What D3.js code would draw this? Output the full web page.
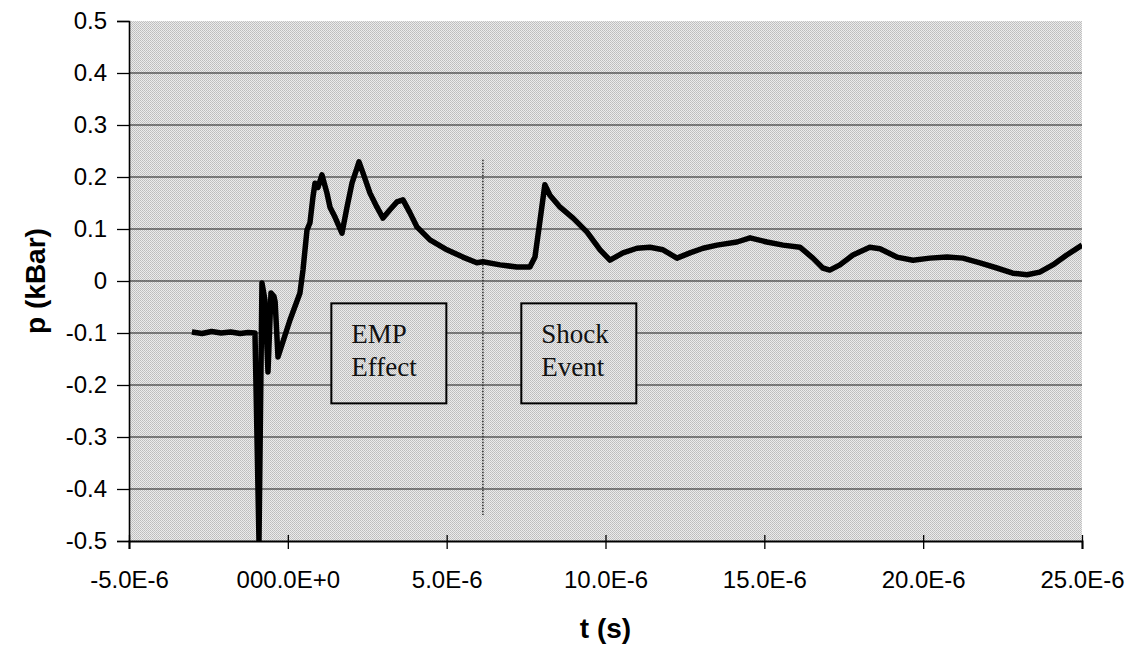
<!DOCTYPE html>
<html>
<head>
<meta charset="utf-8">
<script src="https://cdn.jsdelivr.net/npm/d3@7"></script>
<style>
  html, body { margin: 0; padding: 0; background: #ffffff; }
  svg { display: block; }
</style>
</head>
<body>
<div id="chart"></div>
<script>
// ---------- data (time in microseconds, pressure in kBar) ----------
const timeUs = [
  -3.02, -2.7, -2.4, -2.1, -1.8, -1.5, -1.25, -1.034,
  -0.971, -0.908, -0.814, -0.719, -0.625, -0.530, -0.436, -0.40,
  -0.310, 0.068, 0.382, 0.477, 0.603, 0.697, 0.792, 0.855, 0.949,
  1.075, 1.232, 1.327, 1.484, 1.704, 1.862, 2.019, 2.177, 2.240,
  2.365, 2.586, 2.806, 2.995, 3.215, 3.436, 3.625, 3.845, 4.065,
  4.474, 5.01, 5.51, 5.95, 6.14, 6.68, 7.21, 7.62, 7.78, 7.94,
  8.09, 8.25, 8.57, 8.98, 9.42, 9.83, 10.14, 10.55, 10.99, 11.40,
  11.81, 12.25, 12.66, 13.07, 13.51, 14.14, 14.55, 15.08, 15.59,
  16.12, 16.53, 16.84, 17.06, 17.38, 17.79, 18.32, 18.64, 19.17,
  19.68, 20.21, 20.75, 21.25, 21.79, 22.32, 22.82, 23.27, 23.67,
  24.08, 24.52, 25.0
];
const pressure = [
  -0.098, -0.101, -0.097, -0.100, -0.098, -0.101, -0.099, -0.100,
  -0.300, -0.500, -0.004, -0.037, -0.175, -0.023, -0.030, -0.040,
  -0.146, -0.075, -0.023, 0.021, 0.098, 0.112, 0.162, 0.188, 0.180,
  0.204, 0.169, 0.142, 0.123, 0.092, 0.142, 0.188, 0.217, 0.229,
  0.208, 0.169, 0.142, 0.121, 0.137, 0.152, 0.156, 0.131, 0.104,
  0.079, 0.060, 0.046, 0.035, 0.037, 0.031, 0.027, 0.027, 0.046, 0.117,
  0.185, 0.165, 0.142, 0.121, 0.094, 0.060, 0.040, 0.054, 0.063, 0.065,
  0.060, 0.044, 0.054, 0.063, 0.069, 0.075, 0.083, 0.075, 0.069,
  0.065, 0.044, 0.025, 0.021, 0.031, 0.050, 0.065, 0.062, 0.046,
  0.040, 0.044, 0.046, 0.044, 0.035, 0.025, 0.015, 0.012, 0.017,
  0.031, 0.050, 0.069
];
const xTickValues = [-5e-6, 0, 5e-6, 10e-6, 15e-6, 20e-6, 25e-6];
const xTickLabels = ["-5.0E-6", "000.0E+0", "5.0E-6", "10.0E-6", "15.0E-6", "20.0E-6", "25.0E-6"];
const yTickValues = [-0.5, -0.4, -0.3, -0.2, -0.1, 0, 0.1, 0.2, 0.3, 0.4, 0.5];
const yTickLabels = ["-0.5", "-0.4", "-0.3", "-0.2", "-0.1", "0", "0.1", "0.2", "0.3", "0.4", "0.5"];
const markerTime = [6.14e-6, 6.14e-6];
const markerP = [0.233, -0.45];
const boxLabels = [
  { lines: ["EMP", "Effect"], t: 1.37e-6, p: -0.043 },
  { lines: ["Shock", "Event"], t: 7.35e-6, p: -0.043 }
];

// ---------- layout ----------
const W = 1135, H = 649;
const L = 129, R = 1082, T = 21, B = 541;
const svg = d3.select("#chart").append("svg").attr("width", W).attr("height", H);

const defs = svg.append("defs");
const pat = defs.append("pattern").attr("id", "halftone")
  .attr("patternUnits", "userSpaceOnUse").attr("width", 2).attr("height", 2);
pat.append("rect").attr("width", 2).attr("height", 2).attr("fill", "#ebebeb");
pat.append("rect").attr("x", 0).attr("y", 0).attr("width", 1).attr("height", 1).attr("fill", "#bcbcbc");
pat.append("rect").attr("x", 1).attr("y", 1).attr("width", 1).attr("height", 1).attr("fill", "#c4c4c4");
defs.append("clipPath").attr("id", "plotclip").append("rect")
  .attr("x", L).attr("y", T).attr("width", R - L).attr("height", B - T);

const x = d3.scaleLinear().domain([-5e-6, 25e-6]).range([L, R]);
const y = d3.scaleLinear().domain([-0.5, 0.5]).range([B, T]);

// plot background
svg.append("rect").attr("x", L).attr("y", T).attr("width", R - L).attr("height", B - T)
  .attr("fill", "url(#halftone)");

// horizontal gridlines
svg.append("g").selectAll("line").data(yTickValues.filter(v => v > -0.5 && v < 0.5)).join("line")
  .attr("x1", L).attr("x2", R).attr("y1", d => y(d)).attr("y2", d => y(d))
  .attr("stroke", "#1a1a1a").attr("stroke-width", 1.2);

// dotted vertical marker
svg.append("line")
  .attr("x1", x(markerTime[0])).attr("x2", x(markerTime[1]))
  .attr("y1", y(markerP[0])).attr("y2", y(markerP[1]))
  .attr("stroke", "#333").attr("stroke-width", 1.6).attr("stroke-dasharray", "1.5,1.5");

// data trace
const pts = timeUs.map((t, i) => [t * 1e-6, pressure[i]]);
svg.append("path").datum(pts)
  .attr("clip-path", "url(#plotclip)")
  .attr("fill", "none").attr("stroke", "#000").attr("stroke-width", 5.5)
  .attr("stroke-linejoin", "round")
  .attr("d", d3.line().x(d => x(d[0])).y(d => y(d[1])));

// annotation boxes
const boxW = 115, boxH = 100;
boxLabels.forEach(b => {
  const bx = x(b.t), by = y(b.p);
  svg.append("rect").attr("x", bx).attr("y", by).attr("width", boxW).attr("height", boxH)
    .attr("fill", "url(#halftone)").attr("stroke", "#000").attr("stroke-width", 2);
  b.lines.forEach((ln, i) => {
    svg.append("text").attr("x", bx + 20).attr("y", by + 40 + i * 33)
      .attr("font-family", "'Liberation Serif', 'Times New Roman', serif")
      .attr("font-size", 27).attr("fill", "#111").text(ln);
  });
});

// axes
const xAxis = d3.axisBottom(x).tickValues(xTickValues)
  .tickFormat((d, i) => xTickLabels[i]).tickSize(8).tickPadding(22);
const gx = svg.append("g").attr("transform", `translate(0,${B})`).call(xAxis);
gx.select(".domain").attr("stroke", "#000").attr("stroke-width", 2);
gx.selectAll(".tick line").attr("stroke", "#000").attr("stroke-width", 1.3).attr("y1", -6);
gx.selectAll("text").attr("font-family", "Arial, 'Liberation Sans', sans-serif")
  .attr("font-size", 24).attr("fill", "#000");

const yAxis = d3.axisLeft(y).tickValues(yTickValues)
  .tickFormat((d, i) => yTickLabels[i]).tickSize(12).tickPadding(10);
const gy = svg.append("g").attr("transform", `translate(${L},0)`).call(yAxis);
gy.select(".domain").attr("stroke", "#000").attr("stroke-width", 1.6);
gy.selectAll(".tick line").attr("stroke", "#000").attr("stroke-width", 1.3);
gy.selectAll("text").attr("font-family", "Arial, 'Liberation Sans', sans-serif")
  .attr("font-size", 24).attr("fill", "#000");

// axis titles
svg.append("text").attr("x", (L + R) / 2).attr("y", 638).attr("text-anchor", "middle")
  .attr("font-family", "Arial, 'Liberation Sans', sans-serif").attr("font-weight", "bold")
  .attr("font-size", 28).text("t (s)");
svg.append("text").attr("transform", `translate(45,${(T + B) / 2}) rotate(-90)`)
  .attr("text-anchor", "middle")
  .attr("font-family", "Arial, 'Liberation Sans', sans-serif").attr("font-weight", "bold")
  .attr("font-size", 28).text("p (kBar)");
</script>
</body>
</html>
